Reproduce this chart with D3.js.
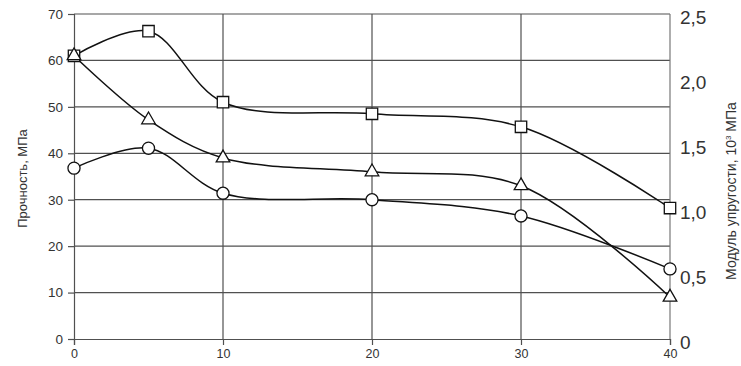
<!DOCTYPE html>
<html>
<head>
<meta charset="utf-8">
<script src="https://cdn.jsdelivr.net/npm/d3@7"></script>
<style>
  body { margin: 0; background: #fff; }
  svg { display: block; font-family: Arial, "Liberation Sans", sans-serif; }
</style>
</head>
<body>
<svg id="chart"></svg>
<script>
const xValues = [0, 5, 10, 20, 30, 40];
const squareValues = [61.0, 66.3, 51.0, 48.5, 45.7, 28.2];
const triangleValues = [61.0, 47.2, 39.0, 36.0, 33.0, 9.0];
const circleValues = [36.8, 41.1, 31.4, 30.0, 26.5, 15.1];
const xTicks = [0, 10, 20, 30, 40];
const leftTicks = [0, 10, 20, 30, 40, 50, 60, 70];
const rightTicks = [0, 0.5, 1.0, 1.5, 2.0, 2.5];

const width = 741, height = 366;
const margin = {top: 14, right: 71, bottom: 27, left: 74};

const svg = d3.select("#chart")
    .attr("width", width)
    .attr("height", height);

const x = d3.scaleLinear().domain([0, 40]).range([margin.left, width - margin.right]);
const y = d3.scaleLinear().domain([0, 70]).range([height - margin.bottom, margin.top]);
const y2 = d3.scaleLinear().domain([0, 2.5]).range([height - margin.bottom, margin.top]);

const gridColor = "#505050";

// horizontal grid
svg.append("g")
    .selectAll("line")
    .data(leftTicks.slice(1))
    .enter().append("line")
    .attr("x1", x(0)).attr("x2", x(40))
    .attr("y1", d => y(d)).attr("y2", d => y(d))
    .attr("stroke", gridColor).attr("stroke-width", 1.2);

// vertical grid
svg.append("g")
    .selectAll("line")
    .data([10, 20, 30])
    .enter().append("line")
    .attr("x1", d => x(d)).attr("x2", d => x(d))
    .attr("y1", y(0)).attr("y2", y(70))
    .attr("stroke", gridColor).attr("stroke-width", 1.2);

// right border
svg.append("line")
    .attr("x1", x(40)).attr("x2", x(40))
    .attr("y1", y(0)).attr("y2", y(70))
    .attr("stroke", "#777").attr("stroke-width", 1.2);

// left axis
const leftAxis = svg.append("g")
    .attr("transform", `translate(${margin.left},0)`)
    .call(d3.axisLeft(y).tickValues(leftTicks).tickSize(6).tickPadding(5));
leftAxis.select(".domain").attr("stroke", gridColor).attr("stroke-width", 1.2);
leftAxis.selectAll(".tick line").attr("stroke", gridColor).attr("stroke-width", 1.2);
leftAxis.selectAll("text").attr("font-size", 13.5).attr("fill", "#333");

// bottom axis
const bottomAxis = svg.append("g")
    .attr("transform", `translate(0,${height - margin.bottom})`)
    .call(d3.axisBottom(x).tickValues(xTicks).tickSize(6).tickPadding(4));
bottomAxis.select(".domain").attr("stroke", gridColor).attr("stroke-width", 1.2);
bottomAxis.selectAll(".tick line").attr("stroke", gridColor).attr("stroke-width", 1.2);
bottomAxis.selectAll("text").attr("font-size", 12.5).attr("fill", "#333");

// right axis labels
const rightAxis = svg.append("g")
    .attr("transform", `translate(${width - margin.right},0)`)
    .call(d3.axisRight(y2).tickValues(rightTicks).tickSize(0).tickPadding(10)
        .tickFormat(d => d === 0 ? "0" : d3.format(".1f")(d).replace(".", ",")));
rightAxis.select(".domain").remove();
rightAxis.selectAll("text")
    .attr("font-size", 19).attr("fill", "#333")
    .attr("dy", "0.5em");

// axis titles
svg.append("text")
    .attr("transform", `translate(27,${(margin.top + height - margin.bottom) / 2 + 2}) rotate(-90)`)
    .attr("text-anchor", "middle")
    .attr("font-size", 13)
    .attr("fill", "#333")
    .text("Прочность, МПа");

const rt = svg.append("text")
    .attr("transform", `translate(736,${191}) rotate(-90)`)
    .attr("text-anchor", "middle")
    .attr("font-size", 14)
    .attr("fill", "#333");
rt.append("tspan").text("Модуль упругости, 10");
rt.append("tspan").attr("font-size", 8).attr("dy", -5).text("3");
rt.append("tspan").attr("dy", 5).text(" МПа");

// series
const line = d3.line()
    .x(d => x(d[0]))
    .y(d => y(d[1]))
    .curve(d3.curveCatmullRom.alpha(0.5));

const series = [
  {values: squareValues, marker: "square"},
  {values: triangleValues, marker: "triangle"},
  {values: circleValues, marker: "circle"}
];

series.forEach(s => {
  const pts = xValues.map((v, i) => [v, s.values[i]]);
  svg.append("path")
      .attr("d", line(pts))
      .attr("fill", "none")
      .attr("stroke", "#111")
      .attr("stroke-width", 1.5);
});

const symbolTypes = {square: d3.symbolSquare, triangle: d3.symbolTriangle, circle: d3.symbolCircle};
const symbolSizes = {square: 130, triangle: 80, circle: 115};

series.forEach(s => {
  svg.append("g")
      .selectAll("path")
      .data(xValues.map((v, i) => [v, s.values[i]]))
      .enter().append("path")
      .attr("transform", d => `translate(${x(d[0])},${y(d[1])})`)
      .attr("d", d3.symbol().type(symbolTypes[s.marker]).size(symbolSizes[s.marker]))
      .attr("fill", "#fff")
      .attr("stroke", "#111")
      .attr("stroke-width", 1.3);
});
</script>
</body>
</html>
